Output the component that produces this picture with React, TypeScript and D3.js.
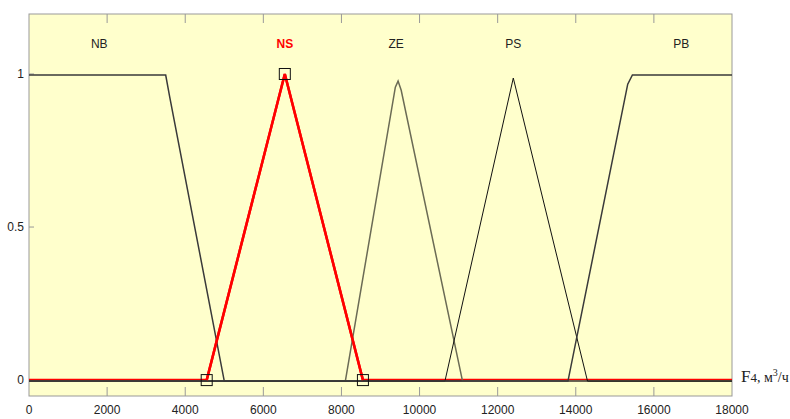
import React, { useEffect, useRef } from "react";
import * as d3 from "d3";

// membership functions, points: [x, mu]
const nbPoints: [number, number][] = [[0, 1], [3500, 1], [3600, 0.93], [5000, 0], [18000, 0]];
const nsPoints: [number, number][] = [[0, 0], [4550, 0], [6550, 1], [8550, 0], [18000, 0]];
const zePoints: [number, number][] = [[0, 0], [8100, 0], [9380, 0.96], [9450, 0.98], [9530, 0.95], [11100, 0], [18000, 0]];
const psPoints: [number, number][] = [[0, 0], [10650, 0], [12400, 0.99], [14300, 0], [18000, 0]];
const pbPoints: [number, number][] = [[0, 0], [13800, 0], [15330, 0.97], [15450, 1], [18000, 1]];

const mfNames = ["NB", "NS", "ZE", "PS", "PB"];
const mfLabelX = [1800, 6550, 9400, 12400, 16700];
const nsMarkers = [4550, 6550, 8550];

const xTicks = [0, 2000, 4000, 6000, 8000, 10000, 12000, 14000, 16000, 18000];
const yTicks = [0, 0.5, 1];

export default function App() {
  const ref = useRef<SVGSVGElement>(null);

  const margin = { top: 14, right: 58, bottom: 23, left: 29 };
  const width = 790, height = 419;

  useEffect(() => {
    const svg = d3.select(ref.current);
    svg.selectAll("*").remove();

    const x = d3.scaleLinear().domain([0, 18000]).range([margin.left, width - margin.right]);
    const y = d3.scaleLinear().domain([-0.052, 1.196]).range([height - margin.bottom, margin.top]);

    // plot background
    svg.append("rect")
      .attr("x", x(0)).attr("y", y(1.196))
      .attr("width", x(18000) - x(0)).attr("height", y(-0.052) - y(1.196))
      .attr("fill", "#ffffcc").attr("stroke", "#999").attr("stroke-width", 1);

    // ticks, inward from bottom and top
    xTicks.slice(1, -1).forEach(t => {
      svg.append("line").attr("x1", x(t)).attr("x2", x(t))
        .attr("y1", y(-0.052)).attr("y2", y(-0.052) - 9).attr("stroke", "#999");
      svg.append("line").attr("x1", x(t)).attr("x2", x(t))
        .attr("y1", y(1.196)).attr("y2", y(1.196) + 9).attr("stroke", "#999");
    });
    yTicks.forEach(t => {
      svg.append("line").attr("x1", x(0)).attr("x2", x(0) + 5)
        .attr("y1", y(t)).attr("y2", y(t)).attr("stroke", "#999");
    });

    svg.append("g").selectAll("text").data(xTicks).join("text")
      .attr("x", d => x(d)).attr("y", y(-0.052) + 18)
      .attr("text-anchor", "middle")
      .attr("font-family", "Liberation Sans, Arial, sans-serif")
      .attr("font-size", 12).attr("fill", "#222")
      .text(d => d);

    svg.append("g").selectAll("text").data(yTicks).join("text")
      .attr("x", x(0) - 5).attr("y", d => y(d) + 4)
      .attr("text-anchor", "end")
      .attr("font-family", "Liberation Sans, Arial, sans-serif")
      .attr("font-size", 12).attr("fill", "#222")
      .text(d => d);

    const line = d3.line<[number, number]>().x(d => x(d[0])).y(d => y(d[1]));

    // red selected set first, others drawn over
    svg.append("path").datum(nsPoints).attr("d", line)
      .attr("fill", "none").attr("stroke", "#ff0000").attr("stroke-width", 2.5);

    const others: [[number, number][], string, number][] = [
      [nbPoints, "#3a3a3a", 1.5],
      [zePoints, "#6b6b55", 1.5],
      [psPoints, "#111", 1],
      [pbPoints, "#3a3a3a", 1.5],
    ];
    others.forEach(([pts, col, w]) => {
      svg.append("path").datum(pts)
        .attr("d", line)
        .attr("transform", "translate(0,1)")
        .attr("fill", "none").attr("stroke", col).attr("stroke-width", w);
    });
    // redraw the rising/falling parts of NS on top
    svg.append("path").datum(nsPoints.slice(1, 4)).attr("d", line)
      .attr("fill", "none").attr("stroke", "#ff0000").attr("stroke-width", 2.5);

    svg.append("g").selectAll("rect").data(nsMarkers).join("rect")
      .attr("x", (d, i) => x(d) - 5.5)
      .attr("y", (d, i) => y(i === 1 ? 1 : 0) - 5.5)
      .attr("width", 11).attr("height", 11)
      .attr("fill", "none").attr("stroke", "#111").attr("stroke-width", 1);

    svg.append("g").selectAll("text").data(mfNames).join("text")
      .attr("x", (d, i) => x(mfLabelX[i])).attr("y", 48)
      .attr("text-anchor", "middle")
      .attr("font-family", "Liberation Sans Narrow, Liberation Sans, Arial, sans-serif")
      .attr("font-size", 12)
      .attr("font-weight", d => d === "NS" ? "bold" : "normal")
      .attr("fill", d => d === "NS" ? "#ff0000" : "#222")
      .text(d => d);

    // axis name
    const lab = svg.append("text")
      .attr("x", 741).attr("y", 382)
      .attr("font-family", "Liberation Serif, Times New Roman, serif")
      .attr("font-size", 17).attr("fill", "#222");
    lab.append("tspan").text("F");
    lab.append("tspan").attr("font-size", 13).text("4");
    lab.append("tspan").attr("font-size", 14).text(", м");
    lab.append("tspan").attr("font-size", 10).attr("dy", -6).text("3");
    lab.append("tspan").attr("font-size", 14).attr("dy", 6).text("/ч");
  }, []);

  return (
    <div style={{ position: "absolute", left: 0, top: 0, background: "#fff" }}>
      <svg ref={ref} width={width} height={height}></svg>
    </div>
  );
}
